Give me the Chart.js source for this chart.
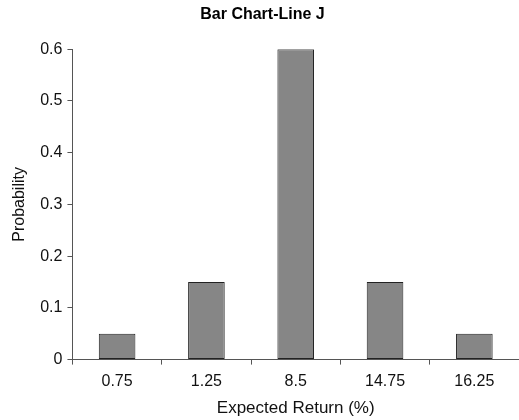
<!DOCTYPE html>
<html>
<head>
<meta charset="utf-8">
<script src="https://cdn.jsdelivr.net/npm/chart.js@4"></script>
<style>
  html, body { margin: 0; padding: 0; background: #fff; }
  #wrap { width: 519px; height: 420px; }
</style>
</head>
<body>
<div id="wrap"><canvas id="barChart"></canvas></div>
<script>
const categories = ['0.75', '1.25', '8.5', '14.75', '16.25'];
const probabilities = [0.05, 0.15, 0.6, 0.15, 0.05];
const yTicks = [0, 0.1, 0.2, 0.3, 0.4, 0.5, 0.6];

const axisColor = '#555';
const fontFamily = 'Liberation Sans, Arial, sans-serif';

const ctx = document.getElementById('barChart').getContext('2d');
const barChart = new Chart(ctx, {
    type: 'bar',
    data: {
        labels: categories,
        datasets: [{
            label: 'Probability',
            data: probabilities,
            backgroundColor: '#868686',
            borderColor: '#222',
            borderWidth: 1,
            borderSkipped: false,
            categoryPercentage: 1,
            barPercentage: 0.41
        }]
    },
    options: {
        responsive: true,
        maintainAspectRatio: false,
        animation: false,
        layout: {
            padding: { top: 0, right: 0, left: 6, bottom: 1 }
        },
        plugins: {
            legend: { display: false },
            tooltip: { enabled: false },
            title: {
                display: true,
                text: 'Bar Chart-Line J',
                color: '#000',
                font: { family: fontFamily, size: 16, weight: 'bold' },
                padding: { top: 5, bottom: 25 }
            }
        },
        scales: {
            y: {
                min: 0,
                max: 0.6,
                afterBuildTicks: (axis) => {
                    axis.ticks = yTicks.map(v => ({ value: v }));
                },
                grid: {
                    drawOnChartArea: false,
                    drawTicks: true,
                    tickLength: 5,
                    color: axisColor
                },
                border: { display: true, color: axisColor, width: 1 },
                ticks: {
                    color: '#111',
                    padding: 5,
                    font: { family: fontFamily, size: 16 }
                },
                title: {
                    display: true,
                    text: 'Probability',
                    color: '#111',
                    font: { family: fontFamily, size: 16 },
                    padding: { top: 4, bottom: 6 }
                }
            },
            x: {
                grid: {
                    drawOnChartArea: false,
                    drawTicks: true,
                    tickLength: 5,
                    color: axisColor
                },
                border: { display: true, color: axisColor, width: 1 },
                ticks: {
                    color: '#111',
                    padding: 9,
                    font: { family: fontFamily, size: 16, lineHeight: 1 }
                },
                title: {
                    display: true,
                    text: 'Expected Return (%)',
                    color: '#111',
                    font: { family: fontFamily, size: 17 },
                    padding: { top: 0, bottom: 0 }
                }
            }
        }
    }
});
</script>
</body>
</html>
